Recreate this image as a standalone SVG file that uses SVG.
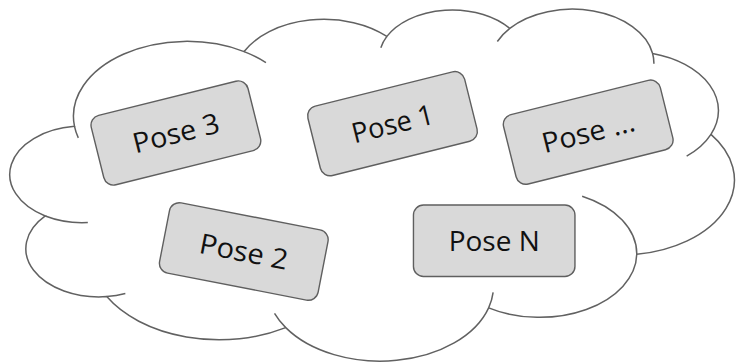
<svg xmlns="http://www.w3.org/2000/svg" width="736" height="363" viewBox="0 0 736 363">
  <style>
    .cloud { fill: #ffffff; stroke: #616161; stroke-width: 1.5; vector-effect: non-scaling-stroke; }
    .cloud-inner { fill: none; stroke: #616161; stroke-width: 1.5; vector-effect: non-scaling-stroke; }
    .pose rect { fill: #d9d9d9; stroke: #5f5f5f; stroke-width: 1.4; }
    .pose text { font-family: "Open Sans", Lato, sans-serif; font-size: 28px; fill: #111111; text-anchor: middle; }
  </style>
  <rect width="736" height="363" fill="#ffffff"/>

  <!-- Cloud outline, drawn in a 43200 x 43200 unit box and scaled to the page -->
  <g id="cloud" transform="translate(9 9.3) scale(0.016794 0.0081435)">
    <path class="cloud" d="M3900 14370
      A6753 9190 0 0 1 14000 5192
      A5333 7267 0 0 1 22500 3330
      A4365 5945 0 0 1 29820 2340
      A4857 6595 0 0 1 38324 5426
      A5333 7273 0 0 1 41798 15354
      A6775 9220 0 0 1 37380 30089
      A5785 7867 0 0 1 28560 36660
      A6752 9215 0 0 1 16478 39090
      A7720 10543 0 0 1 5820 35280
      A4360 5918 0 0 1 2160 25380
      A4345 5945 0 0 1 3900 14370 Z"/>
    <path class="cloud-inner" d="M4693 26177 A4345 5945 0 0 1 2160 25380
      M6928 34899 A4360 5918 0 0 1 5820 35280
      M16478 39090 A6752 9215 0 0 1 15810 37350
      M28827 34751 A6752 9215 0 0 1 28560 36660
      M34129 22954 A5785 7867 0 0 1 37380 30089
      M41798 15354 A5333 7273 0 0 1 40350 18030
      M38324 5426 A4857 6595 0 0 1 38400 6690
      M29078 3952 A4857 6595 0 0 1 29820 2340
      M22141 4720 A4365 5945 0 0 1 22500 3330
      M14000 5192 A6753 9190 0 0 1 15300 6540
      M4127 15789 A6753 9190 0 0 1 3900 14370"/>
  </g>

  <!-- Pose cards -->
  <g id="pose-3" class="pose" transform="translate(175.9 133) rotate(-14)">
    <rect x="-80.75" y="-35.75" width="161.5" height="71.5" rx="10"/>
    <text x="0" y="10" textLength="88.5" lengthAdjust="spacingAndGlyphs">Pose 3</text>
  </g>
  <g id="pose-1" class="pose" transform="translate(392.5 123.7) rotate(-14)">
    <rect x="-80.75" y="-35.75" width="161.5" height="71.5" rx="10"/>
    <text x="0" y="10" textLength="83.5" lengthAdjust="spacingAndGlyphs">Pose 1</text>
  </g>
  <g id="pose-more" class="pose" transform="translate(588.2 132.2) rotate(-14)">
    <rect x="-80.75" y="-35.75" width="161.5" height="71.5" rx="10"/>
    <text x="0" y="10" textLength="94.5" lengthAdjust="spacingAndGlyphs">Pose ...</text>
  </g>
  <g id="pose-2" class="pose" transform="translate(243.8 251.5) rotate(11)">
    <rect x="-80.75" y="-35.75" width="161.5" height="71.5" rx="10"/>
    <text x="0" y="10" textLength="89.5" lengthAdjust="spacingAndGlyphs">Pose 2</text>
  </g>
  <g id="pose-n" class="pose" transform="translate(494.2 240.75)">
    <rect x="-80.75" y="-35.75" width="161.5" height="71.5" rx="10"/>
    <text x="0" y="10" textLength="91" lengthAdjust="spacingAndGlyphs">Pose N</text>
  </g>
</svg>
